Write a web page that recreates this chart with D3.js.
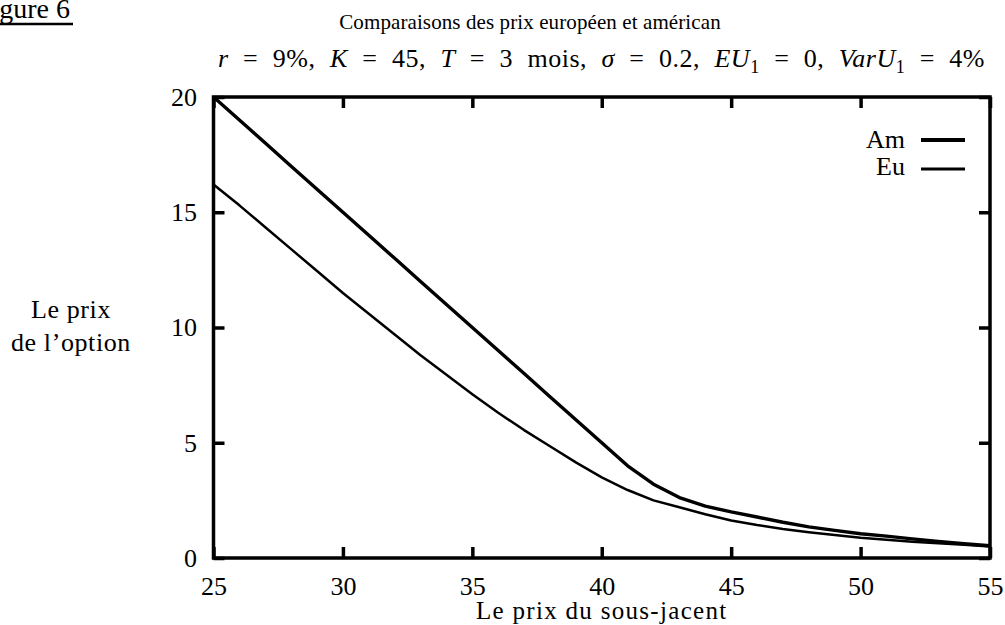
<!DOCTYPE html>
<html>
<head>
<meta charset="utf-8">
<script src="https://cdn.jsdelivr.net/npm/d3@7"></script>
<style>
  html, body { margin: 0; padding: 0; background: #fff; }
  svg { display: block; }
  text { font-family: "Liberation Serif", "DejaVu Serif", serif; fill: #000; white-space: pre; }
</style>
</head>
<body>
<svg id="chart" width="1005" height="625"></svg>
<script>
// ---- Data ----
const underlyingPrices = [25,26,27,28,29,30,31,32,33,34,35,36,37,38,39,40,41,42,43,44,45,46,47,48,49,50,51,52,53,54,55];
const americanPrices   = [20,19,18,17,16,15,14,13,12,11,10,9,8,7,6,5,4.0,3.2,2.62,2.25,2.0,1.78,1.55,1.35,1.2,1.05,0.95,0.83,0.72,0.62,0.53];
const europeanPrices   = [16.2,15.3,14.35,13.4,12.45,11.5,10.6,9.7,8.8,7.95,7.1,6.3,5.55,4.85,4.15,3.5,2.95,2.5,2.2,1.9,1.63,1.43,1.26,1.12,1.0,0.88,0.79,0.71,0.64,0.57,0.5];
const xTicks = [25,30,35,40,45,50,55];
const yTicks = [0,5,10,15,20];
const seriesNames = ["Am","Eu"];
const titleLine1 = "Comparaisons des prix européen et américan";
const titleLine2 = [
  {t:"r", i:true}, {t:" = 9%, "}, {t:"K", i:true}, {t:" = 45, "}, {t:"T", i:true},
  {t:" = 3 mois, "}, {t:"σ", i:true}, {t:" = 0.2, "}, {t:"EU", i:true}, {t:"1", sub:true},
  {t:" = 0, "}, {t:"VarU", i:true}, {t:"1", sub:true}, {t:" = 4%"}
];
const xLabel = "Le prix du sous-jacent";
const yLabelLines = ["Le prix", "de l’option"];
const figureLabel = "Figure 6";

// ---- Layout ----
const svg = d3.select("#chart");
const L = 213.5, R = 990, T = 97, B = 558;
const x = d3.scaleLinear().domain([25,55]).range([L,R]);
const y = d3.scaleLinear().domain([0,20]).range([B,T]);

// figure label (cut off at left, as in the reference)
svg.append("text").attr("x", 70).attr("y", 18).attr("text-anchor","end")
  .style("font-size","28px").text(figureLabel);
svg.append("line").attr("x1",0).attr("x2",73).attr("y1",24).attr("y2",24)
  .attr("stroke","#000").attr("stroke-width",2.5);

// title
svg.append("text").attr("x", 530).attr("y", 29).attr("text-anchor","middle")
  .style("font-size","21px").style("letter-spacing","0.1px").text(titleLine1);
const t2 = svg.append("text").attr("x", 601.5).attr("y", 67).attr("text-anchor","middle")
  .style("font-size","26px").style("letter-spacing","0.5px");
let prevSub = false;
titleLine2.forEach(p => {
  const ts = t2.append("tspan").text(p.t);
  if (p.i) ts.style("font-style","italic");
  if (p.sub) { ts.attr("dy", 6).style("font-size","18px"); prevSub = true; }
  else if (prevSub) { ts.attr("dy", -6); prevSub = false; }
});
// fit the second title line to the reference width by widening the spaces (TeX-like)
const w2 = t2.node().getComputedTextLength();
const target2 = 767;
if (w2 > 0) {
  const nSpaces = (t2.text().match(/ /g) || []).length;
  t2.style("word-spacing", Math.max(0, (target2 - w2) / nSpaces) + "px");
}

// axes
const tickStyle = g => {
  g.select(".domain").remove();
  g.selectAll(".tick line").attr("stroke","#000").attr("stroke-width",3.5);
  g.selectAll(".tick text").style("font-size","26px").attr("font-family",null);
};
svg.append("g").attr("transform",`translate(0,${B})`)
  .call(d3.axisBottom(x).tickValues(xTicks).tickSize(-11).tickPadding(19).tickFormat(d3.format("d")))
  .call(tickStyle);
svg.append("g").attr("transform",`translate(0,${T})`)
  .call(d3.axisTop(x).tickValues(xTicks).tickSize(-11).tickFormat(""))
  .call(tickStyle);
svg.append("g").attr("transform",`translate(${L},0)`)
  .call(d3.axisLeft(y).tickValues(yTicks).tickSize(-11).tickPadding(16.5).tickFormat(d3.format("d")))
  .call(tickStyle);
svg.append("g").attr("transform",`translate(${R},0)`)
  .call(d3.axisRight(y).tickValues(yTicks).tickSize(-11).tickFormat(""))
  .call(tickStyle);
svg.selectAll(".tick text").attr("fill","#000");

// frame
svg.append("rect").attr("x",L).attr("y",T).attr("width",R-L).attr("height",B-T)
  .attr("fill","none").attr("stroke","#000").attr("stroke-width",3.5);

// curves
const lineGen = vals => d3.line().x((d,i)=>x(underlyingPrices[i])).y(d=>y(d))(vals);
svg.append("clipPath").attr("id","plotclip").append("rect")
  .attr("x",L).attr("y",T).attr("width",R-L).attr("height",B-T);
svg.append("path").attr("d", lineGen(americanPrices)).attr("fill","none")
  .attr("stroke","#000").attr("stroke-width",3.4).attr("stroke-linejoin","round")
  .attr("clip-path","url(#plotclip)");
svg.append("path").attr("d", lineGen(europeanPrices)).attr("fill","none")
  .attr("stroke","#000").attr("stroke-width",2.5).attr("stroke-linejoin","round")
  .attr("clip-path","url(#plotclip)");

// legend
const legendY = [148, 175], legendLineY = [140, 169], legendW = [4, 3];
seriesNames.forEach((n,i) => {
  svg.append("text").attr("x",905).attr("y",legendY[i]).attr("text-anchor","end")
    .style("font-size","26px").text(n);
  svg.append("line").attr("x1",921).attr("x2",965).attr("y1",legendLineY[i]).attr("y2",legendLineY[i])
    .attr("stroke","#000").attr("stroke-width",legendW[i]);
});

// axis labels
svg.append("text").attr("x",(L+R)/2).attr("y",619).attr("text-anchor","middle")
  .style("font-size","25px").style("letter-spacing","1.3px").text(xLabel);
yLabelLines.forEach((s,i) => {
  svg.append("text").attr("x",71).attr("y",[318,351][i]).attr("text-anchor","middle")
    .style("font-size","26px").style("letter-spacing","0.6px").text(s);
});
</script>
</body>
</html>
